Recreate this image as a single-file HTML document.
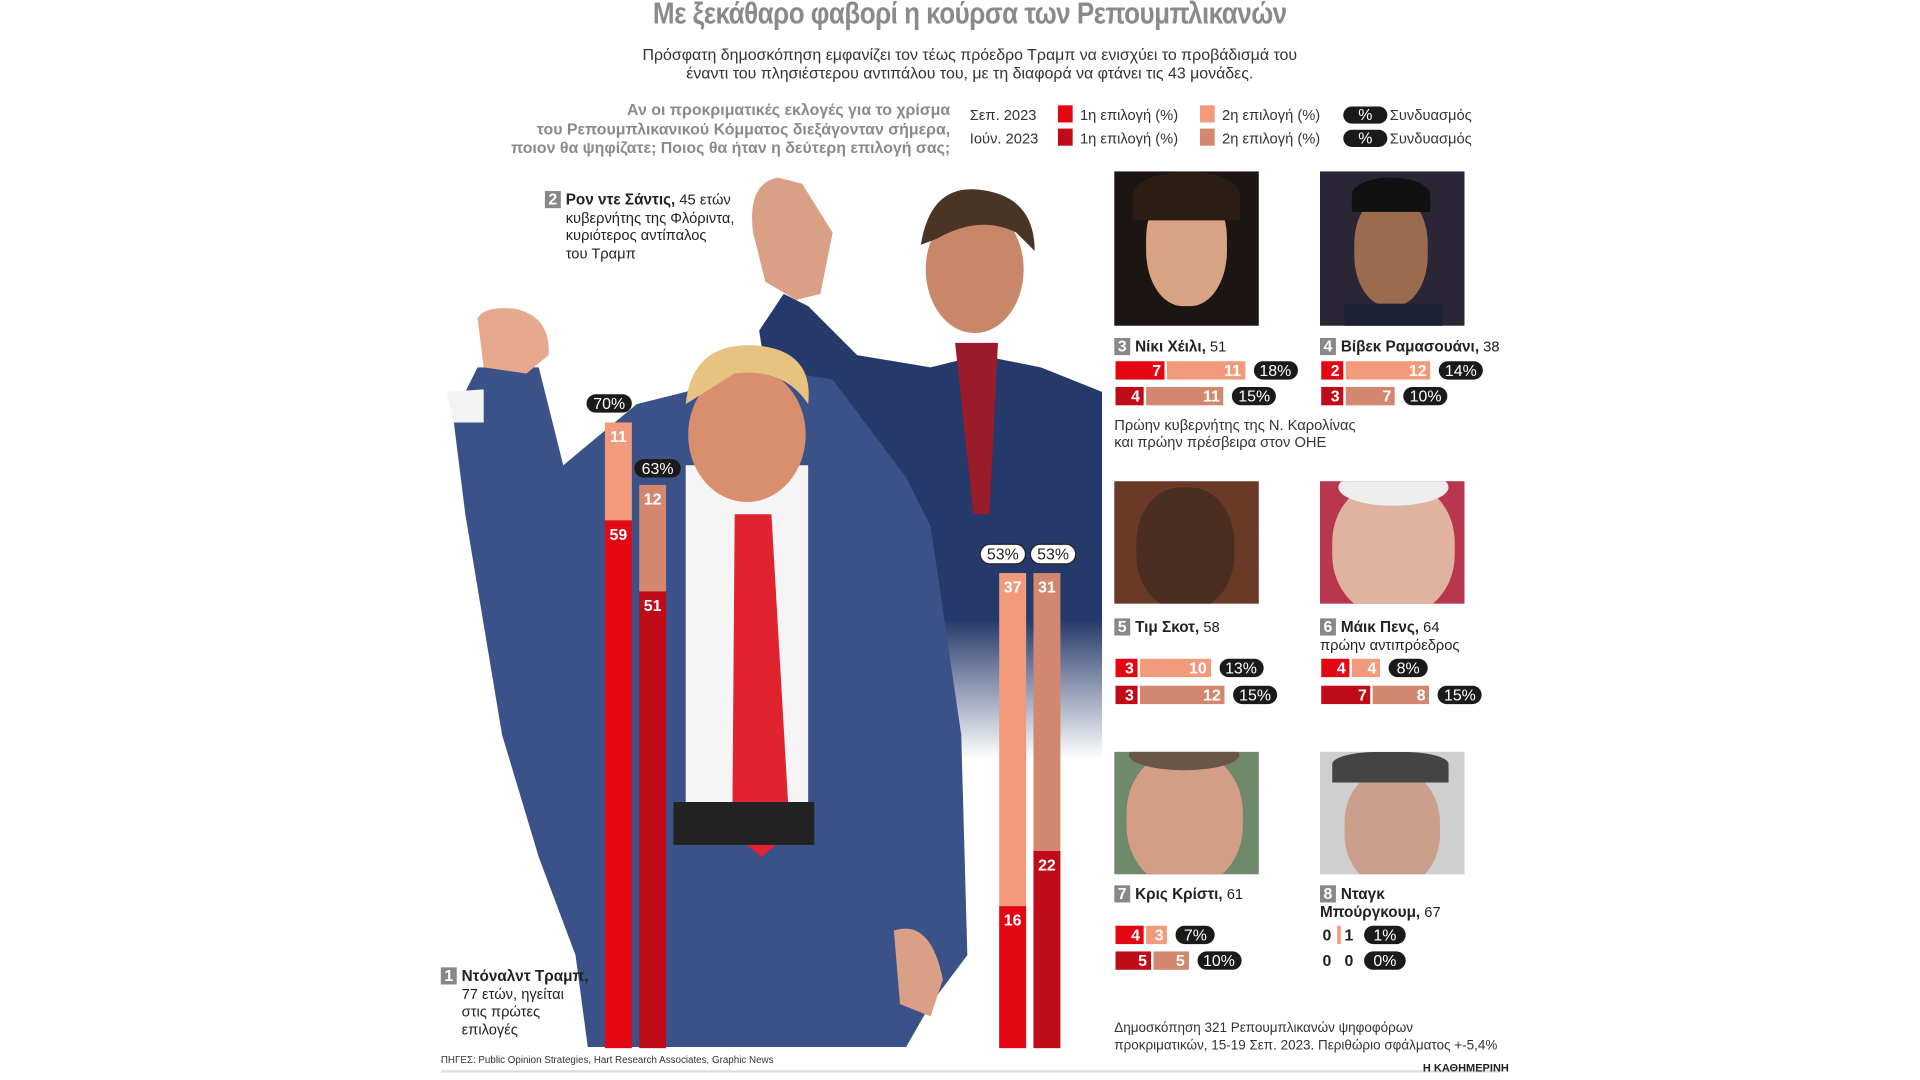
<!DOCTYPE html>
<html><head><meta charset="utf-8">
<style>
html,body{margin:0;padding:0;background:#fff;overflow:hidden}
#w{width:1920px;height:1080px;position:relative;overflow:hidden}
#c{position:absolute;left:0;top:0;width:1568px;height:882px;transform:scale(1.22449);transform-origin:0 0;font-family:"Liberation Sans","DejaVu Sans",sans-serif;color:#222}
.a{position:absolute}
.t{position:absolute;white-space:nowrap}
.pill{position:absolute;background:#1a1a1a;color:#fff;border-radius:9px;font-size:13px;text-align:center;line-height:15px;height:15px}
.seg{position:absolute;color:#fff;font-weight:bold;font-size:13px;text-align:right;box-sizing:border-box;padding-right:3px;line-height:15px;height:15px}
.r1{background:#e30613}.s1{background:#f29a7c}.r2{background:#c00c18}.s2{background:#d3876f}
.num{display:inline-block;background:#888;color:#fff;font-weight:bold;width:13px;height:14px;line-height:14px;text-align:center;font-size:13px;margin-right:4px}
.nm{font-size:12px}
.nm b{font-size:12.5px}
.vb{position:absolute;color:#fff;font-weight:bold;font-size:13px;text-align:center;box-sizing:border-box;padding-top:4px}
.ph{position:absolute;overflow:hidden}
</style></head><body><div id="w"><div id="c">

<div class="t" style="left:0;width:1584px;text-align:center;top:-3px;font-size:25px;font-weight:bold;color:#8a8a8a;letter-spacing:-0.5px;transform:scaleX(0.85)">Με ξεκάθαρο φαβορί η κούρσα των Ρεπουμπλικανών</div>
<div class="t" style="left:0;width:1584px;text-align:center;top:37px;font-size:13px;color:#333;line-height:15px">Πρόσφατη δημοσκόπηση εμφανίζει τον τέως πρόεδρο Τραμπ να ενισχύει το προβάδισμά του<br>έναντι του πλησιέστερου αντιπάλου του, με τη διαφορά να φτάνει τις 43 μονάδες.</div>

<div class="t" style="right:792px;top:82px;text-align:right;font-size:13px;font-weight:bold;color:#8a8a8a;line-height:15.5px">Αν οι προκριματικές εκλογές για το χρίσμα<br>του Ρεπουμπλικανικού Κόμματος διεξάγονταν σήμερα,<br>ποιον θα ψηφίζατε; Ποιος θα ήταν η δεύτερη επιλογή σας;</div>

<div class="t" style="left:792px;top:87px;font-size:12px;color:#333">Σεπ. 2023</div>
<div class="a r1" style="left:864px;top:86px;width:12px;height:14px"></div>
<div class="t" style="left:882px;top:87px;font-size:12px;color:#333">1η επιλογή (%)</div>
<div class="a s1" style="left:980px;top:86px;width:12px;height:14px"></div>
<div class="t" style="left:998px;top:87px;font-size:12px;color:#333">2η επιλογή (%)</div>
<div class="pill" style="left:1097px;top:87px;width:36px;height:14px;line-height:14px">%</div>
<div class="t" style="left:1135px;top:87px;font-size:12px;color:#333">Συνδυασμός</div>
<div class="t" style="left:792px;top:106px;font-size:12px;color:#333">Ιούν. 2023</div>
<div class="a r2" style="left:864px;top:105px;width:12px;height:14px"></div>
<div class="t" style="left:882px;top:106px;font-size:12px;color:#333">1η επιλογή (%)</div>
<div class="a s2" style="left:980px;top:105px;width:12px;height:14px"></div>
<div class="t" style="left:998px;top:106px;font-size:12px;color:#333">2η επιλογή (%)</div>
<div class="pill" style="left:1097px;top:106px;width:36px;height:14px;line-height:14px">%</div>
<div class="t" style="left:1135px;top:106px;font-size:12px;color:#333">Συνδυασμός</div>

<svg class="a" style="left:0;top:0" width="1568" height="882">
<defs><linearGradient id="fade" x1="0" y1="0" x2="0" y2="1"><stop offset="0.7" stop-color="#253a6b"/><stop offset="1" stop-color="#253a6b" stop-opacity="0"/></linearGradient></defs>
<path d="M620,270 L640,240 L660,250 L700,290 L760,300 L800,290 L850,300 L900,320 L900,620 L800,620 L700,600 L640,400 Z" fill="url(#fade)"/>
<path d="M615,190 Q610,150 635,145 L655,150 L680,190 L670,240 L650,245 L625,230 Z" fill="#d9a086"/>
<ellipse cx="796" cy="220" rx="40" ry="52" fill="#c98769"/>
<path d="M752,200 Q760,150 800,155 Q845,160 845,205 L830,190 Q800,175 765,195 Z" fill="#4a3525"/>
<path d="M780,280 L815,280 L808,420 L795,420 Z" fill="#9a1b2a"/>
<path d="M370,340 L390,300 L440,300 L460,380 L520,330 L560,320 L620,300 L680,310 L740,390 L760,430 L785,600 L790,780 L760,820 L740,855 L480,855 L470,780 L440,700 L410,600 L380,420 Z" fill="#3b5289"/>
<path d="M390,260 Q395,250 420,252 Q450,258 448,290 L430,305 L395,300 Z" fill="#e6a98d"/>
<path d="M365,320 L395,318 L395,345 L370,345 Z" fill="#f4f4f4"/>
<path d="M560,380 L660,380 L660,660 L560,660 Z" fill="#f5f5f5"/>
<path d="M600,420 L630,420 L645,680 L622,700 L598,680 Z" fill="#e0232f"/>
<ellipse cx="610" cy="355" rx="48" ry="55" fill="#d98e6d"/>
<path d="M560,330 Q565,280 615,282 Q665,285 660,330 Q640,300 600,305 Z" fill="#e8c27f"/>
<path d="M550,655 L665,655 L665,690 L550,690 Z" fill="#222"/>
<path d="M730,760 Q760,750 770,800 L760,830 L735,820 Z" fill="#d9a086"/>
</svg>

<div class="t nm" style="left:445px;top:156px;line-height:14.5px"><span class="num">2</span><b>Ρον ντε Σάντις,</b> 45 ετών<br><span style="margin-left:17px">κυβερνήτης της Φλόριντα,</span><br><span style="margin-left:17px">κυριότερος αντίπαλος</span><br><span style="margin-left:17px">του Τραμπ</span></div>
<div class="t nm" style="left:360px;top:790px;line-height:14.5px"><span class="num">1</span><b>Ντόναλντ Τραμπ,</b><br><span style="margin-left:17px">77 ετών, ηγείται</span><br><span style="margin-left:17px">στις πρώτες</span><br><span style="margin-left:17px">επιλογές</span></div>

<div class="vb s1" style="left:494px;top:345px;width:22px;height:80px">11</div>
<div class="vb r1" style="left:494px;top:425px;width:22px;height:431px">59</div>
<div class="pill" style="left:479px;top:322px;width:37px">70%</div>
<div class="vb s2" style="left:522px;top:396px;width:22px;height:87px">12</div>
<div class="vb r2" style="left:522px;top:483px;width:22px;height:373px">51</div>
<div class="pill" style="left:518px;top:375px;width:38px">63%</div>

<div class="vb s1" style="left:816px;top:468px;width:22px;height:272px">37</div>
<div class="vb r1" style="left:816px;top:740px;width:22px;height:116px">16</div>
<div class="pill" style="left:800px;top:444px;width:36px;background:#fff;color:#222;border:1px solid #222">53%</div>
<div class="vb s2" style="left:844px;top:468px;width:22px;height:227px">31</div>
<div class="vb r2" style="left:844px;top:695px;width:22px;height:161px">22</div>
<div class="pill" style="left:841px;top:444px;width:36px;background:#fff;color:#222;border:1px solid #222">53%</div>

<div class="ph" style="left:910px;top:140px;width:118px;height:126px;background:#1b1613"><div class="a" style="left:26px;top:10px;width:66px;height:100px;border-radius:45%;background:#d8a383"></div><div class="a" style="left:15px;top:0;width:88px;height:40px;border-radius:50% 50% 0 0;background:#2b1d14"></div></div>
<div class="ph" style="left:1078px;top:140px;width:118px;height:126px;background:#2a2636"><div class="a" style="left:28px;top:18px;width:60px;height:92px;border-radius:45%;background:#9b6b4e"></div><div class="a" style="left:26px;top:5px;width:64px;height:28px;border-radius:50% 50% 0 0;background:#111"></div><div class="a" style="left:20px;top:108px;width:80px;height:20px;background:#1b2034"></div></div>
<div class="ph" style="left:910px;top:393px;width:118px;height:100px;background:#6b3a26"><div class="a" style="left:18px;top:5px;width:80px;height:100px;border-radius:45%;background:#4a2e22"></div></div>
<div class="ph" style="left:1078px;top:393px;width:118px;height:100px;background:#b8374e"><div class="a" style="left:10px;top:0;width:100px;height:110px;border-radius:45%;background:#e0b3a0"></div><div class="a" style="left:15px;top:-10px;width:90px;height:30px;border-radius:50%;background:#eee"></div></div>
<div class="ph" style="left:910px;top:614px;width:118px;height:100px;background:#6e8a6a"><div class="a" style="left:10px;top:0;width:95px;height:110px;border-radius:45%;background:#d49d86"></div><div class="a" style="left:12px;top:-10px;width:90px;height:25px;border-radius:50%;background:#6b5546"></div></div>
<div class="ph" style="left:1078px;top:614px;width:118px;height:100px;background:#cfcfcf"><div class="a" style="left:20px;top:15px;width:78px;height:95px;border-radius:45%;background:#caa08c"></div><div class="a" style="left:10px;top:0;width:95px;height:25px;border-radius:40% 40% 0 0;background:#444"></div></div>

<div class="t nm" style="left:910px;top:276px"><span class="num">3</span><b>Νίκι Χέιλι,</b> 51</div>
<div class="t nm" style="left:1078px;top:276px"><span class="num">4</span><b>Βίβεκ Ραμασουάνι,</b> 38</div>
<div class="t" style="left:910px;top:340px;font-size:12px;line-height:14px;color:#333">Πρώην κυβερνήτης της Ν. Καρολίνας<br>και πρώην πρέσβειρα στον ΟΗΕ</div>
<div class="t nm" style="left:910px;top:505px"><span class="num">5</span><b>Τιμ Σκοτ,</b> 58</div>
<div class="t nm" style="left:1078px;top:505px;line-height:15px"><span class="num">6</span><b>Μάικ Πενς,</b> 64<br>πρώην αντιπρόεδρος</div>
<div class="t nm" style="left:910px;top:723px"><span class="num">7</span><b>Κρις Κρίστι,</b> 61</div>
<div class="t nm" style="left:1078px;top:723px;line-height:15px"><span class="num">8</span><b>Νταγκ</b><br><b>Μπούργκουμ,</b> 67</div>

<div id="bars"></div>

<div class="t" style="left:910px;top:834px;font-size:11px;line-height:13.5px;color:#333">Δημοσκόπηση 321 Ρεπουμπλικανών ψηφοφόρων<br>προκριματικών, 15-19 Σεπ. 2023. Περιθώριο σφάλματος +-5,4%</div>
<div class="t" style="left:360px;top:861px;font-size:8px;color:#333">ΠΗΓΕΣ: Public Opinion Strategies, Hart Research Associates, Graphic News</div>
<div class="a" style="left:360px;top:874px;width:865px;height:2px;background:#ddd"></div>
<div class="t" style="left:1162px;top:867px;font-size:9px;font-weight:bold;color:#222">Η ΚΑΘΗΜΕΡΙΝΗ</div>

<script>
var rows=[
[911,295,7,11,'18%',1],[911,316,4,11,'15%',2],
[1079,295,2,12,'14%',1],[1079,316,3,7,'10%',2],
[911,538,3,10,'13%',1],[911,560,3,12,'15%',2],
[1079,538,4,4,'8%',1],[1079,560,7,8,'15%',2],
[911,756,4,3,'7%',1],[911,777,5,5,'10%',2]];
var u=5.75,h='';
rows.forEach(function(r){
 var x=r[0],y=r[1],w1=Math.max(r[2]*u,18),w2=Math.max(r[3]*u,14);
 var c1=r[5]==1?'r1':'r2',c2=r[5]==1?'s1':'s2';
 h+='<div class="seg '+c1+'" style="left:'+x+'px;top:'+y+'px;width:'+w1+'px">'+r[2]+'</div>';
 h+='<div class="seg '+c2+'" style="left:'+(x+w1+2)+'px;top:'+y+'px;width:'+w2+'px">'+r[3]+'</div>';
 h+='<div class="pill" style="left:'+(x+w1+w2+9)+'px;top:'+y+'px;width:'+(r[4].length>2?36:32)+'px">'+r[4]+'</div>';
});
h+='<div class="t" style="left:1080px;top:756px;font-size:13px;font-weight:bold">0</div><div class="a s1" style="left:1092px;top:756px;width:3px;height:15px"></div><div class="t" style="left:1098px;top:756px;font-size:13px;font-weight:bold">1</div><div class="pill" style="left:1114px;top:756px;width:34px">1%</div>';
h+='<div class="t" style="left:1080px;top:777px;font-size:13px;font-weight:bold">0</div><div class="t" style="left:1098px;top:777px;font-size:13px;font-weight:bold">0</div><div class="pill" style="left:1114px;top:777px;width:34px">0%</div>';
document.getElementById('bars').innerHTML=h;
</script>
</div></div></body></html>
